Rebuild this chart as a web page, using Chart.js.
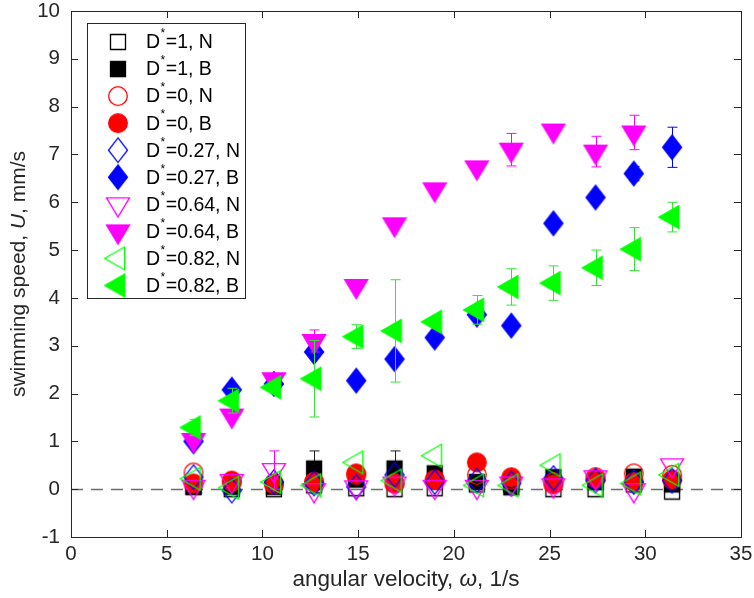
<!DOCTYPE html>
<html>
<head>
<meta charset="utf-8">
<script src="https://cdn.jsdelivr.net/npm/chart.js@4.4.1/dist/chart.umd.min.js"></script>
<style>
html,body{margin:0;padding:0;background:#ffffff;}
#wrap{width:754px;height:598px;position:relative;}
</style>
</head>
<body>
<div id="wrap"><canvas id="chart"></canvas></div>
<script>
// ---------------- data ----------------
const omega = [6.4, 8.4, 10.6, 12.7, 14.9, 16.9, 19.0, 21.2, 23.0, 25.2, 27.4, 29.4, 31.4];
const xTicks = [0, 5, 10, 15, 20, 25, 30, 35];
const yTicks = [-1, 0, 1, 2, 3, 4, 5, 6, 7, 8, 9, 10];
const seriesLabels = ['D*=1, N', 'D*=1, B', 'D*=0, N', 'D*=0, B', 'D*=0.27, N', 'D*=0.27, B',
                      'D*=0.64, N', 'D*=0.64, B', 'D*=0.82, N', 'D*=0.82, B'];

const d1N   = [0.05, 0.00, 0.00, 0.08, 0.02, 0.00, 0.02, 0.10, 0.10, 0.00, 0.00, 0.10, -0.05];
const d1B   = [0.05, 0.05, 0.05, 0.43, 0.20, 0.43, 0.33, 0.15, 0.04, 0.25, 0.15, 0.26, 0.10];
const d1Berr = [0, 0, 0, 0.37, 0, 0.37, 0.05, 0, 0, 0, 0, 0, 0];
const d0N   = [0.35, 0.15, 0.10, 0.15, 0.30, 0.12, 0.20, 0.30, 0.20, 0.15, 0.25, 0.33, 0.30];
const d0B   = [0.12, 0.18, 0.12, 0.15, 0.33, 0.12, 0.19, 0.56, 0.25, 0.10, 0.22, 0.15, 0.20];
const d0Berr = [0, 0, 0, 0, 0, 0, 0, 0, 0, 0, 0.08, 0, 0];
const d27N  = [0.25, -0.03, 0.15, 0.12, 0.05, 0.30, 0.15, 0.18, 0.12, 0.23, 0.18, 0.15, 0.18];
const d27B  = [1.00, 2.08, 2.20, 2.87, 2.27, 2.72, 3.17, 3.65, 3.42, 5.56, 6.10, 6.60, 7.15];
const d27Berr = [0, 0.05, 0.05, 0.05, 0.05, 0.05, 0.08, 0.08, 0.10, 0, 0.10, 0.15, 0.42];
const d64N  = [0.05, 0.17, 0.40, -0.02, 0.04, 0.12, 0.05, 0.05, 0.12, 0.08, 0.25, -0.02, 0.50];
const d64Nerr = [0, 0, 0.40, 0, 0, 0, 0, 0, 0, 0, 0, 0, 0];
const d64B  = [1.03, 1.54, 2.30, 3.10, 4.25, 5.54, 6.27, 6.73, 7.10, 7.50, 7.06, 7.46, null];
const d64Berr = [0, 0.08, 0.05, 0.23, 0, 0, 0, 0, 0.34, 0, 0.32, 0.36, 0];
const d82N  = [0.22, 0.03, 0.15, 0.08, 0.56, 0.18, 0.70, 0.08, 0.08, 0.50, 0.08, 0.12, 0.30];
const d82B  = [1.29, 1.85, 2.13, 2.31, 3.19, 3.31, 3.50, 3.75, 4.23, 4.31, 4.63, 5.02, 5.69];
const d82Berr = [0.17, 0.26, 0.05, 0.80, 0.25, 1.07, 0.10, 0.30, 0.38, 0.36, 0.37, 0.45, 0.31];

// ---------------- markers ----------------
function makeMarker(shape, color, filled) {
  const c = document.createElement('canvas');
  c.width = 34; c.height = 34;
  const g = c.getContext('2d');
  g.translate(17, 17);
  g.beginPath();
  if (shape === 'square') {
    g.rect(-7.5, -7.5, 15, 15);
  } else if (shape === 'circle') {
    g.arc(0, 0, 9.3, 0, Math.PI * 2);
  } else if (shape === 'diamond') {
    g.moveTo(0, -12.3); g.lineTo(9.5, 0); g.lineTo(0, 12.3); g.lineTo(-9.5, 0); g.closePath();
  } else if (shape === 'down') {
    g.moveTo(-11.5, -6.3); g.lineTo(11.5, -6.3); g.lineTo(0, 12.7); g.closePath();
  } else if (shape === 'left') {
    g.moveTo(-13.3, 0); g.lineTo(6.7, -11.5); g.lineTo(6.7, 11.5); g.closePath();
  }
  g.lineWidth = 1.3;
  g.strokeStyle = color;
  g.lineJoin = 'miter';
  if (filled) { g.fillStyle = color; g.fill(); }
  g.stroke();
  return c;
}

const BLACK = '#000000', RED = '#ff0000', BLUE = '#0000ff', MAG = '#ff00ff', GREEN = '#00ff00';
const seriesDefs = [
  { y: d1N,  err: null,    shape: 'square',  color: BLACK, filled: false },
  { y: d1B,  err: d1Berr,  shape: 'square',  color: BLACK, filled: true, errColor: '#222222' },
  { y: d0N,  err: null,    shape: 'circle',  color: RED,   filled: false },
  { y: d0B,  err: d0Berr,  shape: 'circle',  color: RED,   filled: true },
  { y: d27N, err: null,    shape: 'diamond', color: BLUE,  filled: false },
  { y: d27B, err: d27Berr, shape: 'diamond', color: BLUE,  filled: true },
  { y: d64N, err: d64Nerr, shape: 'down',    color: MAG,   filled: false },
  { y: d64B, err: d64Berr, shape: 'down',    color: MAG,   filled: true },
  { y: d82N, err: null,    shape: 'left',    color: GREEN, filled: false },
  { y: d82B, err: d82Berr, shape: 'left',    color: GREEN, filled: true, errColor: '#33e633' }
];

const datasets = seriesDefs.map((s, i) => {
  const img = makeMarker(s.shape, s.color, s.filled);
  return {
    label: seriesLabels[i],
    data: omega.map((x, k) => (s.y[k] === null ? null : { x: x, y: s.y[k] })).filter(p => p !== null),
    errs: omega.map((x, k) => (s.err ? s.err[k] : 0)).filter((e, k) => s.y[k] !== null),
    errColor: s.errColor || s.color,
    pointStyle: img,
    pointRadius: 10,
    pointHoverRadius: 10,
    showLine: false,
    order: seriesDefs.length - i,
    clip: false
  };
});

const AXIS = '#262626';
const FONT = '"Liberation Sans", Arial, Helvetica, sans-serif';

const errorBarPlugin = {
  id: 'errorBars',
  beforeDatasetDraw(chart, args) {
    const ds = chart.data.datasets[args.index];
    if (!ds.errs) return;
    const ys = chart.scales.y;
    const ctx = chart.ctx;
    ctx.save();
    ctx.strokeStyle = ds.errColor;
    ctx.lineWidth = 1;
    args.meta.data.forEach((pt, k) => {
      const e = ds.errs[k];
      if (!e) return;
      const v = ds.data[k].y;
      const top = ys.getPixelForValue(v + e);
      const bot = ys.getPixelForValue(v - e);
      const x = Math.round(pt.x) + 0.5;
      ctx.beginPath();
      ctx.moveTo(x, top); ctx.lineTo(x, bot);
      ctx.moveTo(x - 5, top); ctx.lineTo(x + 5, top);
      ctx.moveTo(x - 5, bot); ctx.lineTo(x + 5, bot);
      ctx.stroke();
    });
    ctx.restore();
  }
};

const framePlugin = {
  id: 'frame',
  beforeDatasetsDraw(chart) {
    const ctx = chart.ctx, xs = chart.scales.x, ys = chart.scales.y;
    const y0 = Math.round(ys.getPixelForValue(0)) + 0.5;
    ctx.save();
    ctx.strokeStyle = '#6e6e6e';
    ctx.lineWidth = 1.5;
    ctx.setLineDash([12, 8]);
    ctx.beginPath();
    ctx.moveTo(xs.left, y0); ctx.lineTo(xs.right, y0);
    ctx.stroke();
    ctx.restore();
  },
  afterDraw(chart) {
    const ctx = chart.ctx, xs = chart.scales.x, ys = chart.scales.y;
    const a = chart.chartArea;
    ctx.save();
    // box
    ctx.strokeStyle = AXIS;
    ctx.lineWidth = 1;
    ctx.strokeRect(Math.round(a.left) + 0.5, Math.round(a.top) + 0.5,
                   Math.round(a.right - a.left), Math.round(a.bottom - a.top));
    // ticks
    const TL = 7;
    ctx.beginPath();
    xTicks.forEach(t => {
      const px = Math.round(xs.getPixelForValue(t)) + 0.5;
      ctx.moveTo(px, a.bottom); ctx.lineTo(px, a.bottom - TL);
      ctx.moveTo(px, a.top); ctx.lineTo(px, a.top + TL);
    });
    yTicks.forEach(t => {
      const py = Math.round(ys.getPixelForValue(t)) + 0.5;
      ctx.moveTo(a.left, py); ctx.lineTo(a.left + TL, py);
      ctx.moveTo(a.right, py); ctx.lineTo(a.right - TL, py);
    });
    ctx.stroke();
    // tick labels
    ctx.fillStyle = AXIS;
    ctx.font = '20.5px ' + FONT;
    ctx.textAlign = 'center';
    ctx.textBaseline = 'middle';
    xTicks.forEach(t => {
      ctx.fillText(String(t), xs.getPixelForValue(t), a.bottom + 17);
    });
    ctx.textAlign = 'right';
    yTicks.forEach(t => {
      ctx.fillText(String(t), a.left - 11, ys.getPixelForValue(t));
    });
    // axis titles (mixed italic)
    function mixed(parts, cx, cy, rot, size) {
      ctx.save();
      ctx.translate(cx, cy);
      if (rot) ctx.rotate(rot);
      let w = 0;
      parts.forEach(p => { ctx.font = (p[1] ? 'italic ' : '') + size + 'px ' + FONT; w += ctx.measureText(p[0]).width; });
      let x = -w / 2;
      ctx.textAlign = 'left';
      ctx.textBaseline = 'middle';
      parts.forEach(p => {
        ctx.font = (p[1] ? 'italic ' : '') + size + 'px ' + FONT;
        ctx.fillText(p[0], x, 0);
        x += ctx.measureText(p[0]).width;
      });
      ctx.restore();
    }
    mixed([['angular velocity, ', false], ['\u03c9', true], [', 1/s', false]], (a.left + a.right) / 2, 580, 0, 22.5);
    mixed([['swimming speed, ', false], ['U', true], [', mm/s', false]], 19, (a.top + a.bottom) / 2, -Math.PI / 2, 21);

    // legend
    const L = { x: 87, y: 23, w: 158, h: 275 };
    ctx.fillStyle = '#ffffff';
    ctx.fillRect(L.x, L.y, L.w, L.h);
    ctx.strokeStyle = AXIS;
    ctx.lineWidth = 1;
    ctx.strokeRect(L.x + 0.5, L.y + 0.5, L.w, L.h);
    chart.data.datasets.forEach((ds, i) => {
      const cy = 42 + i * 27.05;
      const img = ds.pointStyle;
      ctx.drawImage(img, 118 - img.width / 2, cy - img.height / 2);
      const parts = ds.label.split('*');
      ctx.fillStyle = '#000000';
      ctx.textAlign = 'left';
      ctx.textBaseline = 'middle';
      ctx.font = '19.5px ' + FONT;
      let x = 146;
      ctx.fillText(parts[0], x, cy + 1);
      x += ctx.measureText(parts[0]).width;
      ctx.font = '12px ' + FONT;
      ctx.fillText('*', x + 0.5, cy - 8);
      x += ctx.measureText('*').width + 1;
      ctx.font = '19.5px ' + FONT;
      ctx.fillText(parts[1], x, cy + 1);
    });
    ctx.restore();
  }
};

new Chart(document.getElementById('chart'), {
  type: 'scatter',
  data: { datasets: datasets },
  options: {
    responsive: true,
    maintainAspectRatio: false,
    animation: false,
    devicePixelRatio: 1,
    layout: { padding: { left: 71, right: 13, top: 8, bottom: 61 } },
    scales: {
      x: { type: 'linear', min: 0, max: 35, display: false },
      y: { type: 'linear', min: -1, max: 10, display: false }
    },
    plugins: {
      legend: { display: false },
      tooltip: { enabled: false }
    },
    events: []
  },
  plugins: [errorBarPlugin, framePlugin]
});
</script>
</body>
</html>
